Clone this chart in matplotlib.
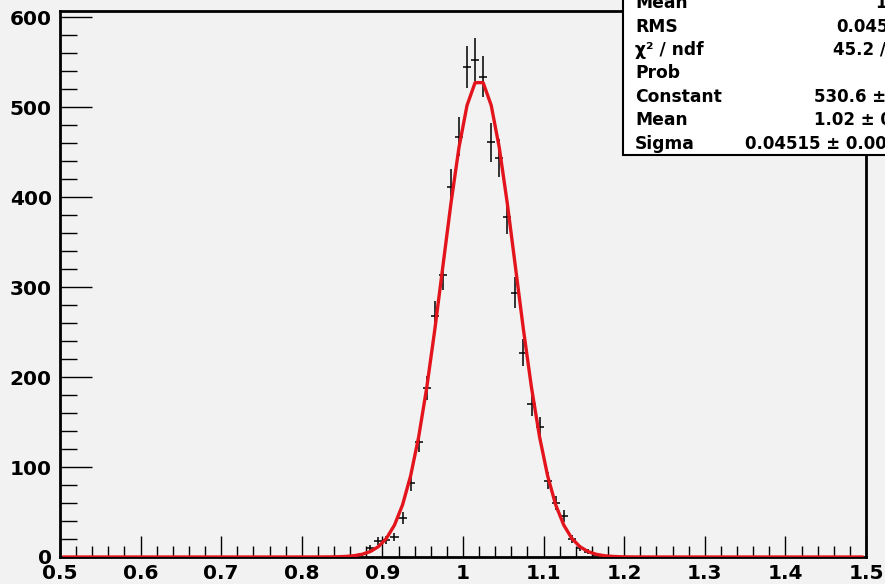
import numpy as np
import matplotlib
matplotlib.use("Agg")
import matplotlib.pyplot as plt
from matplotlib.ticker import MultipleLocator

# ---- data ----
bin_centers = [0.865, 0.875, 0.885, 0.895, 0.905, 0.915, 0.925, 0.935, 0.945,
               0.955, 0.965, 0.975, 0.985, 0.995, 1.005, 1.015, 1.025, 1.035,
               1.045, 1.055, 1.065, 1.075, 1.085, 1.095, 1.105, 1.115, 1.125,
               1.135, 1.145, 1.155, 1.165]
counts = [1, 3, 10, 18, 19, 22, 43, 82, 128,
          188, 268, 314, 411, 467, 545, 553, 534, 461,
          444, 378, 294, 227, 170, 144, 85, 60, 46,
          20, 10, 6, 2]
bin_width = 0.01

# Gaussian fit parameters (from the stats box)
fit_constant = 530.6
fit_mean = 1.02
fit_sigma = 0.04515

stat_labels = ["Mean", "RMS", "\u03c7\u00b2 / ndf", "Prob", "Constant", "Mean", "Sigma"]
stat_values = ["1.019", "0.04536", "45.2 / 28", "", "530.6 \u00b1 9.5", "1.02 \u00b1 0.00",
               "0.04515 \u00b1 0.00048"]

xlim = (0.5, 1.5)
ylim = (0, 607)

bg = "#f2f2f2"
W, H = 885, 584
fig = plt.figure(figsize=(W / 100, H / 100), dpi=100, facecolor=bg)
ax = fig.add_axes([60 / W, 1 - 557 / H, (866 - 60) / W, (557 - 11) / H], facecolor=bg)

x = np.array(bin_centers)
y = np.array(counts, dtype=float)
ax.errorbar(x, y, yerr=np.sqrt(y), xerr=bin_width / 2, fmt="none",
            ecolor="black", elinewidth=1.1, capsize=0, zorder=2)

xf = np.linspace(xlim[0] + bin_width / 2, xlim[1] - bin_width / 2, 100)
yf = fit_constant * np.exp(-0.5 * ((xf - fit_mean) / fit_sigma) ** 2)
ax.plot(xf, yf, color="#e3141c", lw=2.4, zorder=3, solid_joinstyle="round")

ax.set_xlim(*xlim)
ax.set_ylim(*ylim)
ax.xaxis.set_major_locator(MultipleLocator(0.1))
ax.xaxis.set_minor_locator(MultipleLocator(0.02))
ax.yaxis.set_major_locator(MultipleLocator(100))
ax.yaxis.set_minor_locator(MultipleLocator(20))
ax.xaxis.set_major_formatter(matplotlib.ticker.FuncFormatter(lambda v, p: f"{v:g}"))
ax.tick_params(axis="x", which="major", direction="in", length=15, width=1, pad=5)
ax.tick_params(axis="x", which="minor", direction="in", length=8, width=1)
ax.tick_params(axis="y", which="major", direction="in", length=23, width=1, pad=6)
ax.tick_params(axis="y", which="minor", direction="in", length=12, width=1)
for lab in ax.get_xticklabels() + ax.get_yticklabels():
    lab.set_fontfamily("DejaVu Sans")
    lab.set_fontweight("bold")
    lab.set_fontsize(14.5)
for s in ax.spines.values():
    s.set_linewidth(2)
    s.set_color("black")

# ---- stats box (figure pixel coordinates) ----
def fx(px):
    return px / W

def fy(py):
    return 1 - py / H

box = plt.Rectangle((fx(623), fy(155)), fx(W + 20) - fx(623), fy(-20) - fy(155),
                    transform=fig.transFigure, facecolor="white", edgecolor="black",
                    lw=1.5, zorder=10)
fig.add_artist(box)
row_y = [3.5, 27, 50, 73.5, 97, 120, 144]
value_right = [928, 912, 915, 921, 921, 921, 921]
for lab, val, ry, vr in zip(stat_labels, stat_values, row_y, value_right):
    fig.text(fx(635), fy(ry), lab, ha="left", va="center", fontsize=12.3,
             fontweight="bold", family="DejaVu Sans", zorder=11)
    if val:
        fig.text(fx(vr), fy(ry), val, ha="right", va="center", fontsize=12,
                 fontweight="bold", family="DejaVu Sans", zorder=11)

fig.savefig("out.png", dpi=100, facecolor=bg)
